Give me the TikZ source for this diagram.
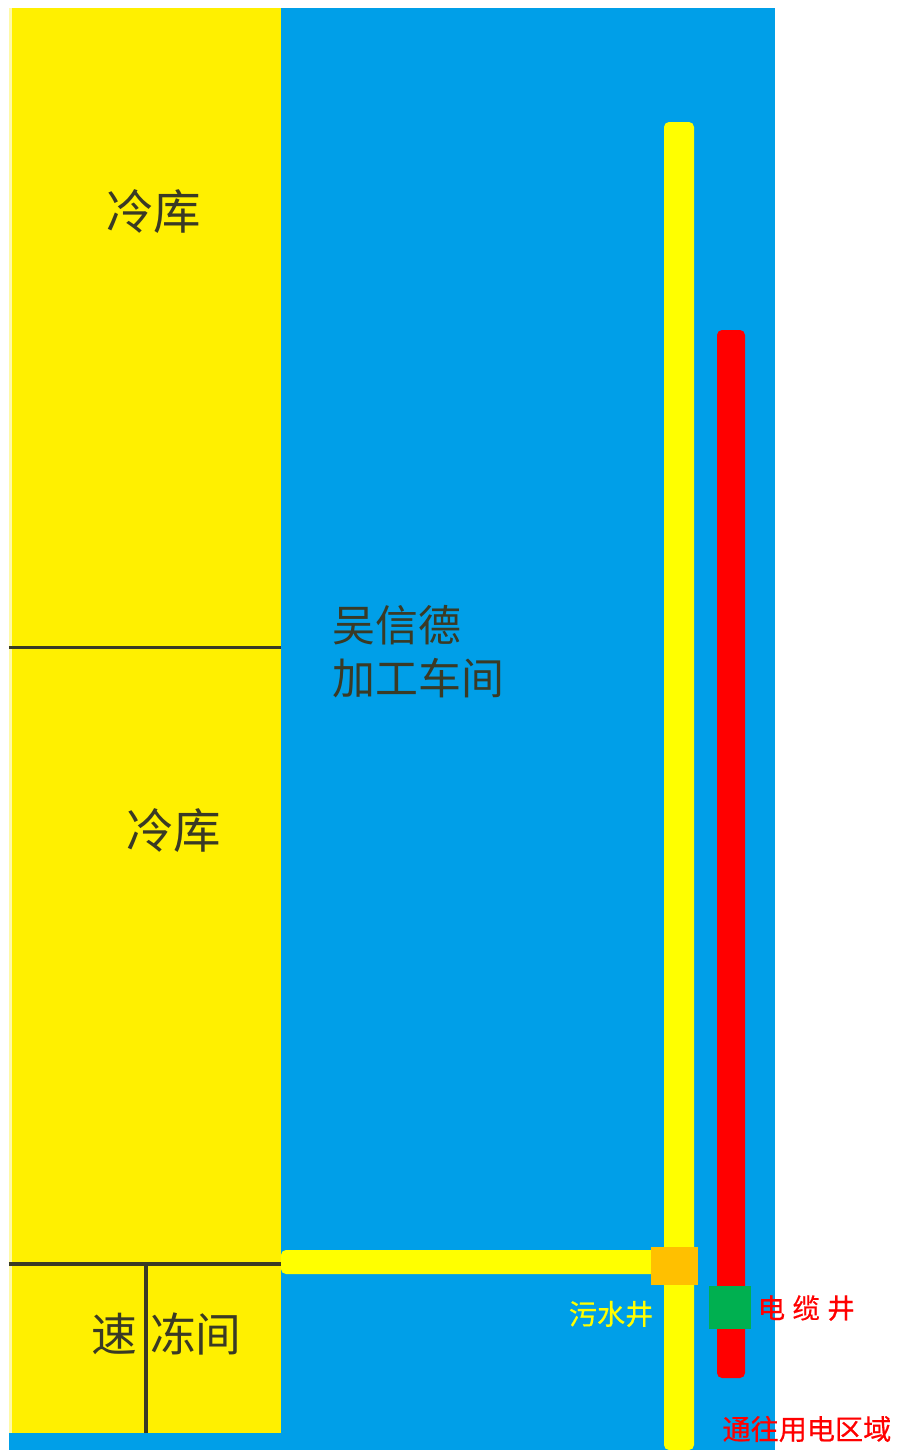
\documentclass[tikz,border=0pt]{standalone}
\usepackage{fontspec}
\newfontfamily\cjk{Noto Sans CJK SC}
\newfontfamily\cjkheavy[FakeBold=0.5]{Noto Sans CJK SC}
\definecolor{wallblue}{HTML}{009FE8}
\definecolor{roomyellow}{HTML}{FFF000}
\definecolor{pipeyellow}{HTML}{FFFF00}
\definecolor{wellorange}{HTML}{FFC000}
\definecolor{wellgreen}{HTML}{00B050}
\definecolor{inkdark}{HTML}{3A3A25}
\begin{document}
\begin{tikzpicture}[x=0.01cm, y=-0.01cm]
\tikzset{roomtext/.style={inner sep=0pt, text=inkdark, font=\cjk\fontsize{13.5pt}{16pt}\selectfont},
  halltext/.style={inner sep=0pt, anchor=west, text=inkdark, font=\cjk\fontsize{12.2pt}{15pt}\selectfont},
  pipe/.style={rounded corners=0.05cm},
  wall/.style={draw=inkdark, line width=1pt}}
\useasboundingbox (0, 0) rectangle (900, 1450);
\fill[wallblue] (9, 8) rectangle (775, 1450);
\fill[roomyellow!35] (9, 8) rectangle (12, 1433);
\fill[roomyellow] (12, 8) rectangle (281, 1433);
\coordinate (W1) at (9, 647.5);
\coordinate (W2) at (281, 647.5);
\coordinate (W3) at (9, 1264);
\coordinate (W4) at (281, 1264);
\coordinate (W5) at (146, 1264);
\coordinate (W6) at (146, 1433);
\draw[wall] (W1) -- (W2);
\draw[wall] (W3) -- (W4);
\draw[wall] (W5) -- (W6);
\fill[pipeyellow, pipe] (664, 122) rectangle (694, 1450);
\fill[pipeyellow, pipe] (281, 1250) rectangle (660, 1274);
\fill[red, pipe] (717, 330) rectangle (745, 1378);
\fill[wellorange] (651, 1247) rectangle (698, 1285);
\fill[wellgreen] (709, 1286) rectangle (751, 1329);
\node[roomtext] (K1) at (154, 212) {冷库};
\node[roomtext] (K2) at (173.5, 831) {冷库};
\node[roomtext, anchor=west, font=\cjk\fontsize{13pt}{15pt}\selectfont] (K3) at (91, 1334) {速\hspace{3.6pt}冻间};
\node[halltext] (H1) at (332, 625) {吴信德};
\node[halltext] (H2) at (332, 678) {加工车间};
\node[inner sep=0pt, anchor=east, text=pipeyellow, font=\cjkheavy\fontsize{8pt}{9pt}\selectfont] (S1) at (654, 1314) {污水井};
\node[inner sep=0pt, anchor=west, text=red, font=\cjkheavy\fontsize{7.8pt}{9pt}\selectfont] (C1) at (757, 1308) {电\hspace{2.1pt}缆\hspace{2.1pt}井};
\node[inner sep=0pt, anchor=east, text=red, font=\cjkheavy\fontsize{8pt}{9pt}\selectfont] (C2) at (892, 1429) {通往用电区域};
\end{tikzpicture}
\end{document}
